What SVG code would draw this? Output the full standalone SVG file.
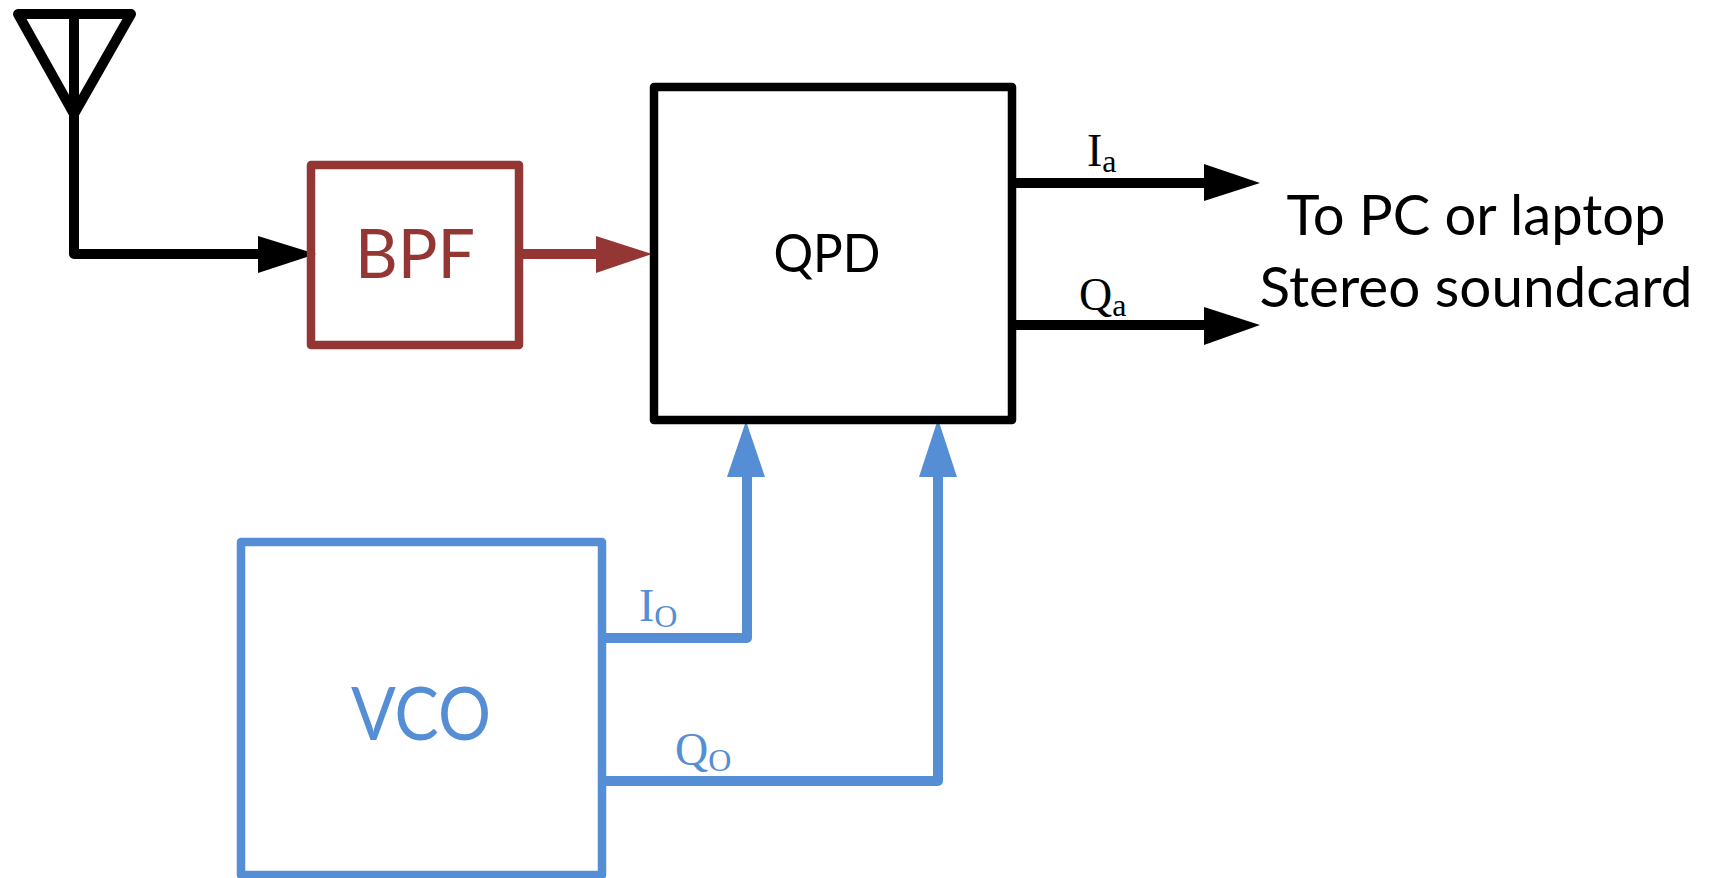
<svg xmlns="http://www.w3.org/2000/svg" width="1710" height="878" viewBox="0 0 1710 878">
<style>
.box{fill:none;stroke-width:8.5;stroke-linejoin:round;stroke-linecap:round}
.w{fill:none;stroke-width:10;stroke-linejoin:round;stroke-linecap:round}
.t{font-family:"Lato","Carlito","Liberation Sans",sans-serif;text-anchor:middle}
.s{font-family:"Liberation Serif",serif;font-size:46px}
.sub{font-size:32px}
.k{stroke:#000}.r{stroke:#943634}.b{stroke:#558ed5}
</style>
<rect width="1710" height="878" fill="#fff"/>
<g id="connectors">
<path class="w k" d="M74 112V254H262"/>
<polygon points="316,254 258,236 258,273" fill="#000"/>
<path class="w r" d="M520 254H600"/>
<polygon points="652,254 596,236 596,273" fill="#943634"/>
<path class="w k" d="M1014 183H1208"/>
<polygon points="1260,183 1204,164 1204,201" fill="#000"/>
<path class="w k" d="M1014 325H1208"/>
<polygon points="1260,325 1204,307 1204,345" fill="#000"/>
<path class="w b" d="M604 638H747V472"/>
<polygon points="746,421 727,477 765,477" fill="#558ed5"/>
<path class="w b" d="M604 781H938V472"/>
<polygon points="938,419 919,477 957,477" fill="#558ed5"/>
</g>
<g id="antenna"><path class="w k" d="M18 14H131L74 114ZM74 14V114"/></g>
<g id="bpf"><rect class="box r" x="311" y="165" width="208" height="180"/><text class="t" x="415" y="278" font-size="68" textLength="120" lengthAdjust="spacingAndGlyphs" fill="#943634">BPF</text></g>
<g id="qpd"><rect class="box k" x="654" y="87" width="358" height="333"/><text class="t" x="827" y="272" font-size="52" textLength="107" lengthAdjust="spacingAndGlyphs" fill="#000">QPD</text></g>
<g id="vco"><rect class="box b" x="241" y="542" width="361" height="333"/><text class="t" x="421" y="740" font-size="74" textLength="140" lengthAdjust="spacingAndGlyphs" fill="#558ed5">VCO</text></g>
<g id="labels">
<text class="s" x="1087" y="166">I<tspan class="sub" dy="6">a</tspan></text>
<text class="s" x="1079" y="310">Q<tspan class="sub" dy="6">a</tspan></text>
<text class="s" x="639" y="621" fill="#558ed5">I<tspan class="sub" dy="6">O</tspan></text>
<text class="s" x="675" y="765" fill="#558ed5">Q<tspan class="sub" dy="6">O</tspan></text>
<text class="t" x="1476" y="235" font-size="56" textLength="379" lengthAdjust="spacingAndGlyphs" fill="#000">To PC or laptop</text>
<text class="t" x="1476" y="307" font-size="56" textLength="433" lengthAdjust="spacingAndGlyphs" fill="#000">Stereo soundcard</text>
</g>
</svg>
